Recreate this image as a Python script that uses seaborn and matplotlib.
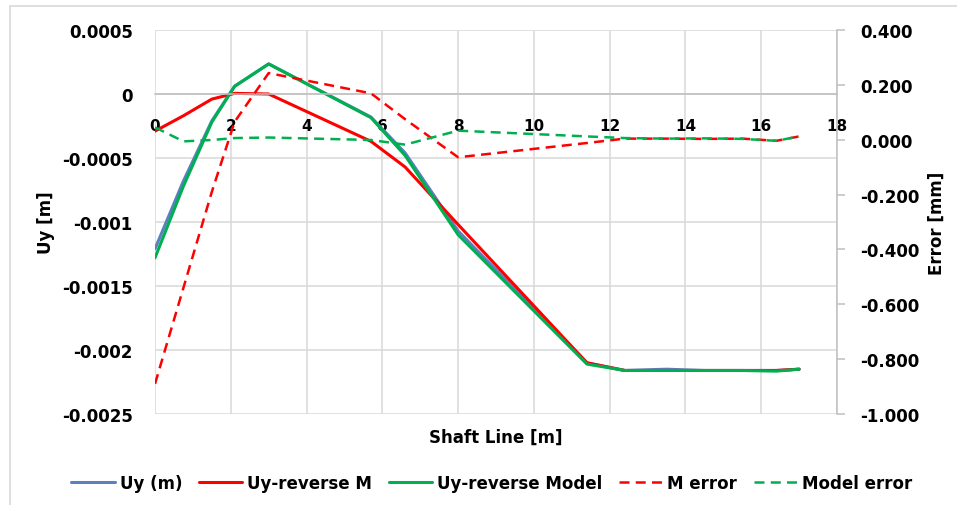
#importing libraries
import seaborn as sns
import matplotlib.pyplot as plt
import matplotlib.lines as mlines
import numpy as np

##data
shaft_x = [0, 0.75, 1.5, 2.1, 3, 5.7, 6.6, 8, 11.4, 12.4, 13.5, 14.5, 15.5, 16.4, 17]
uy_m = [-0.00121, -0.00068, -0.00021, 0.00006, 0.000235, -0.00018, -0.00046, -0.00107,
        -0.0021, -0.00216, -0.00215, -0.00216, -0.00216, -0.00216, -0.00215]
uy_rev_m = [-0.00029, -0.00017, -0.00004, 0.000005, 0.0, -0.00037, -0.00057, -0.00102,
            -0.0021, -0.00216, -0.00216, -0.00216, -0.00216, -0.00216, -0.00215]
uy_rev_model = [-0.00128, -0.00072, -0.00022, 0.00006, 0.000235, -0.000185, -0.00048, -0.0011,
                -0.00211, -0.00216, -0.00216, -0.00216, -0.00216, -0.002165, -0.00215]
m_error = [-0.89, -0.54, -0.19, 0.065, 0.243, 0.169, 0.075, -0.064,
           -0.012, 0.004, 0.004, 0.003, 0.004, -0.004, 0.012]
model_error = [0.045, -0.006, -0.001, 0.006, 0.008, -0.001, -0.018, 0.033,
               0.012, 0.006, 0.004, 0.005, 0.003, -0.004, 0.012]

x_ticks = [0, 2, 4, 6, 8, 10, 12, 14, 16, 18]
left_ticks = [0.0005, 0, -0.0005, -0.001, -0.0015, -0.002, -0.0025]
left_labels = ["0.0005", "0", "-0.0005", "-0.001", "-0.0015", "-0.002", "-0.0025"]
right_ticks = [0.4, 0.2, 0.0, -0.2, -0.4, -0.6, -0.8, -1.0]
right_labels = ["0.400", "0.200", "0.000", "-0.200", "-0.400", "-0.600", "-0.800", "-1.000"]

sns.set_theme(style="white")
plt.rcParams['font.family'] = ['DejaVu Sans']
plt.rcParams['font.weight'] = 'bold'
plt.rcParams['axes.labelweight'] = 'bold'
plt.rcParams['text.color'] = 'black'
plt.rcParams['axes.labelcolor'] = 'black'

blue = "#5b7fbf"
red = "#ff0000"
green = "#00b050"
grid_c = "#d9d9d9"
fs = 12

fig = plt.figure(figsize=(9.57, 5.06), dpi=100)
ax = fig.add_axes([155/957, 1-415/506, 682/957, 384/506])

##solid lines on the primary axis
sns.lineplot(ax=ax, x=shaft_x, y=uy_m, color=blue, lw=2.2, label="Uy (m)")
sns.lineplot(ax=ax, x=shaft_x, y=uy_rev_m, color=red, lw=2.2, label="Uy-reverse M")
sns.lineplot(ax=ax, x=shaft_x, y=uy_rev_model, color=green, lw=2.2, label="Uy-reverse Model")

ax.set_xlim(0, 18)
ax.set_ylim(-0.0025, 0.0005)
ax.set_xticks(x_ticks)
ax.set_xticklabels([str(t) for t in x_ticks], fontsize=fs, fontweight='bold')
ax.set_yticks(left_ticks)
ax.set_yticklabels(left_labels, fontsize=fs, fontweight='bold')
ax.grid(True, color=grid_c, lw=1.1)
ax.set_axisbelow(True)
for s in ["left", "right", "top"]:
    ax.spines[s].set_visible(False)
ax.spines["bottom"].set_position(("data", 0))
ax.spines["bottom"].set_color("#bfbfbf")
ax.spines["bottom"].set_linewidth(1.1)
ax.tick_params(axis="x", length=0, pad=17, labelcolor="black")
ax.tick_params(axis="y", length=0, pad=16, labelcolor="black")
ax.set_xlabel("Shaft Line [m]", fontsize=fs, fontweight='bold')
ax.xaxis.set_label_coords(0.5, -0.035)
ax.set_ylabel("Uy [m]", fontsize=fs, fontweight='bold')
ax.yaxis.set_label_coords(-0.1466, 0.5)
ax.get_legend().remove()

##dashed errors on the secondary axis
ax2 = ax.twinx()
sns.lineplot(ax=ax2, x=shaft_x, y=m_error, color=red, lw=1.8, label="M error")
sns.lineplot(ax=ax2, x=shaft_x, y=model_error, color=green, lw=1.8, label="Model error")
for l in ax2.get_lines():
    l.set_dashes((4, 2.5))
ax2.set_ylim(-1.0, 0.4)
ax2.set_yticks(right_ticks)
ax2.set_yticklabels(right_labels, fontsize=fs, fontweight='bold')
ax2.grid(False)
for s in ["left", "top", "bottom"]:
    ax2.spines[s].set_visible(False)
ax2.spines["right"].set_color("#bfbfbf")
ax2.spines["right"].set_linewidth(1.1)
ax2.tick_params(axis="y", direction="out", length=6, width=1.1, color="#bfbfbf",
                pad=11, right=True, labelcolor="black")
ax2.set_ylabel("Error [mm]", fontsize=fs, fontweight='bold')
ax2.yaxis.set_label_coords(1.1334, 0.5)
ax2.get_legend().remove()

##legend at the bottom
h1, l1 = ax.get_legend_handles_labels()
h2, l2 = ax2.get_legend_handles_labels()
fig.legend(h1 + h2, l1 + l2, loc="center", bbox_to_anchor=(492/957, 1-484/506), ncol=5,
           frameon=False, fontsize=fs, handlelength=2.6, handletextpad=0.3,
           columnspacing=1.0, labelcolor="black")

##chart border
fig.add_artist(mlines.Line2D([10/957, 10/957], [0, 1-7/506], color=grid_c, lw=1.2))
fig.add_artist(mlines.Line2D([10/957, 1], [1-7/506, 1-7/506], color=grid_c, lw=1.2))

fig.savefig("out.png", dpi=100)
